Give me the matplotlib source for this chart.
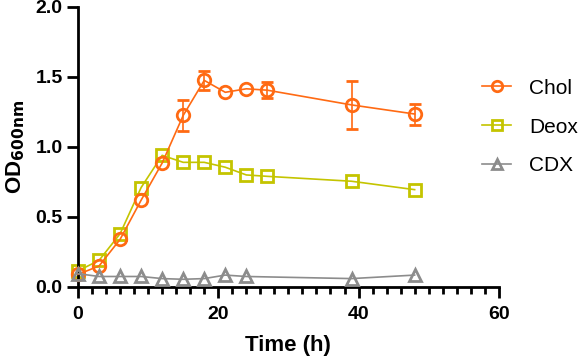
import matplotlib.pyplot as plt
from matplotlib.ticker import MultipleLocator
from matplotlib.lines import Line2D

plt.rcParams['font.family'] = ['Liberation Sans', 'DejaVu Sans']

time_chol = [0, 3, 6, 9, 12, 15, 18, 21, 24, 27, 39, 48]
chol = [0.09, 0.15, 0.34, 0.62, 0.885, 1.225, 1.475, 1.39, 1.415, 1.405, 1.30, 1.235]
chol_err = [0.0, 0.0, 0.0, 0.0, 0.0, 0.11, 0.07, 0.0, 0.0, 0.055, 0.17, 0.075]

time_deox = [0, 3, 6, 9, 12, 15, 18, 21, 24, 27, 39, 48]
deox = [0.115, 0.19, 0.38, 0.71, 0.94, 0.89, 0.89, 0.855, 0.80, 0.79, 0.755, 0.695]

time_cdx = [0, 3, 6, 9, 12, 15, 18, 21, 24, 39, 48]
cdx = [0.095, 0.075, 0.075, 0.075, 0.06, 0.055, 0.06, 0.085, 0.075, 0.06, 0.085]

c_chol = "#FF6A13"
c_deox = "#C4C400"
c_cdx = "#8C8C8C"

fig = plt.figure(figsize=(5.8, 3.61), dpi=100)
ax = fig.add_axes([0.1345, 0.205, 0.7255, 0.776])

# only draw error bars that stick out of the marker
show_err = [e > 0 for e in chol_err]
ax.errorbar(time_chol, chol, yerr=chol_err, errorevery=show_err, color=c_chol,
            marker='o', ms=9, mfc='none', mew=2, lw=1.2, capsize=4,
            elinewidth=1.2, capthick=1.2, clip_on=False, zorder=3)
ax.plot(time_deox, deox, color=c_deox, marker='s', ms=8.5, mfc='none', mew=2,
        lw=1.2, clip_on=False, zorder=2)
ax.plot(time_cdx, cdx, color=c_cdx, marker='^', ms=8.5, mfc='none', mew=2,
        lw=1.2, clip_on=False, zorder=4)

ax.set_xlim(0, 60)
ax.set_ylim(0, 2.0)
ax.xaxis.set_major_locator(MultipleLocator(20))
ax.xaxis.set_minor_locator(MultipleLocator(2))
ax.yaxis.set_major_locator(MultipleLocator(0.5))
ax.yaxis.set_major_formatter(plt.FuncFormatter(lambda v, p: f"{v:.1f}"))

for s in ['top', 'right']:
    ax.spines[s].set_visible(False)
for s in ['left', 'bottom']:
    ax.spines[s].set_linewidth(2)
ax.tick_params(which='major', length=8, width=2, labelsize=14, pad=3)
ax.tick_params(axis='x', which='major', pad=6)
ax.tick_params(which='minor', length=5, width=2)
for lab in ax.get_xticklabels() + ax.get_yticklabels():
    lab.set_fontweight('bold')

ax.set_xlabel("Time (h)", fontsize=16, fontweight='bold', labelpad=8)
ax.set_ylabel(r"OD$_{\mathbf{600nm}}$", fontsize=16, fontweight='bold', labelpad=6)

handles = [
    Line2D([], [], color=c_chol, marker='o', ms=7.5, mfc='none', mew=2, lw=1.2),
    Line2D([], [], color=c_deox, marker='s', ms=7, mfc='none', mew=2, lw=1.2),
    Line2D([], [], color=c_cdx, marker='^', ms=7, mfc='none', mew=2, lw=1.2),
]
fig.legend(handles, ["Chol", "Deox", "CDX"], loc='center left',
           bbox_to_anchor=(482 / 580, 1 - 127 / 361), frameon=False,
           fontsize=15, handlelength=1.4, handletextpad=0.85,
           labelspacing=0.95, borderpad=0, borderaxespad=0)

plt.savefig("out.png", dpi=100)
